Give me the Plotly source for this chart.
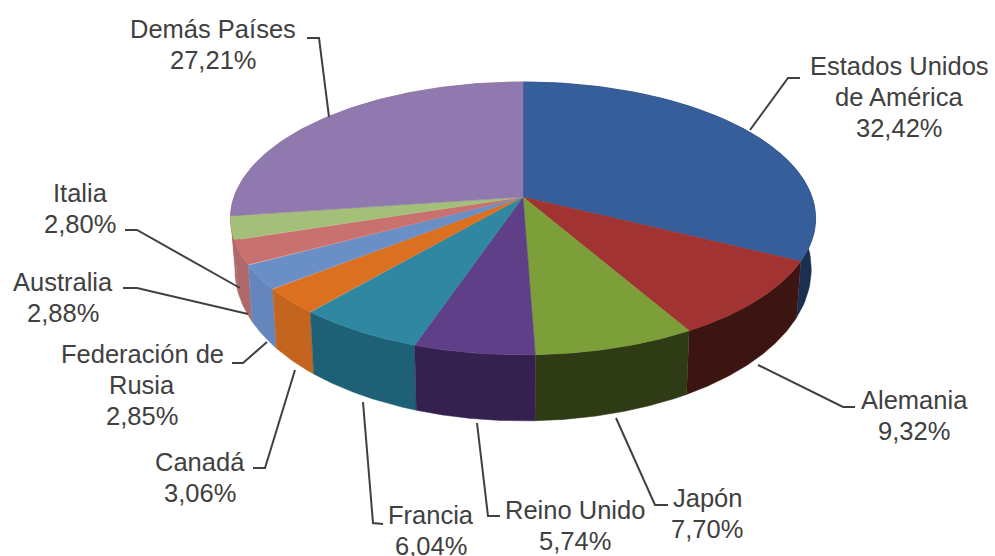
import numpy as np
import plotly.graph_objects as go

countries = ["Estados Unidos<br>de América", "Alemania", "Japón", "Reino Unido", "Francia",
             "Canadá", "Federación de<br>Rusia", "Australia", "Italia", "Demás Países"]
shares = [32.42, 9.32, 7.70, 5.74, 6.04, 3.06, 2.85, 2.88, 2.80, 27.21]
top_colors = ["#355E9A", "#A13432", "#7C9F3A", "#5F3F87", "#2F87A2", "#DB7021",
              "#6A8EC6", "#C9716F", "#A3BF79", "#9079AE"]
side_colors = ["#1B2F50", "#3C1513", "#2F3B15", "#35214F", "#1E6075", "#C4651F",
               "#6585BD", "#B0696A", "#B0696A", "#B0696A"]
label_x = [899, 914, 707, 575, 431, 200, 142, 63, 80, 213]
label_y = [97, 415, 513, 525, 530, 477, 385, 297, 208, 44]
leaders = [
    [(800, 78), (788, 78), (750, 130)],
    [(855, 407), (843, 407), (758, 365)],
    [(668, 505), (655, 505), (616, 418)],
    [(500, 516), (488, 516), (477, 423)],
    [(383, 524), (373, 523), (363, 402)],
    [(253, 468), (265, 468), (295, 370)],
    [(232, 363), (243, 363), (267, 342)],
    [(123, 288), (137, 288), (248, 314)],
    [(125, 230), (137, 230), (240, 288)],
    [(307, 38), (319, 38), (329, 117)],
]

# perspective projection of the pie disc onto the page
CX, CY, R, S, K = 523.0, 197.0, 289.0, 133.1, 0.157
LINE_GAP = 31


def project(theta, bottom=False):
    u = np.sin(theta)
    v = -np.cos(theta)
    w = 1 - K * v
    if bottom:
        return CX + 0.985 * R * u / w, CY + 48 + 18 * v + S * v / w
    return CX + R * u / w, CY + S * v / w


fractions = np.array(shares) / sum(shares)
edges = np.concatenate([[0], np.cumsum(fractions)]) * 2 * np.pi
mid_depth = -np.cos((edges[:-1] + edges[1:]) / 2)

fig = go.Figure()
for i in np.argsort(mid_depth):
    a = np.linspace(edges[i], edges[i + 1], 80)
    xt, yt = project(a)
    xb, yb = project(a, bottom=True)
    fig.add_trace(go.Scatter(
        x=np.concatenate([xt, xb[::-1]]), y=np.concatenate([yt, yb[::-1]]),
        mode="lines", fill="toself", fillcolor=side_colors[i],
        line=dict(color=side_colors[i], width=0.5), hoverinfo="skip", showlegend=False))
for i in range(len(shares)):
    a = np.linspace(edges[i], edges[i + 1], 80)
    xt, yt = project(a)
    fig.add_trace(go.Scatter(
        x=np.concatenate([[CX], xt, [CX]]), y=np.concatenate([[CY], yt, [CY]]),
        mode="lines", fill="toself", fillcolor=top_colors[i],
        line=dict(color=top_colors[i], width=0.5), hoverinfo="skip", showlegend=False))

shapes = []
for pts in leaders:
    path = "M " + " L ".join(f"{x},{y}" for x, y in pts)
    shapes.append(dict(type="path", path=path, xref="x", yref="y",
                       line=dict(color="#404040", width=2)))

annotations = []
for name, val, x, y in zip(countries, shares, label_x, label_y):
    lines = name.split("<br>") + [f"{val:.2f}%".replace(".", ",")]
    y0 = y - LINE_GAP * (len(lines) - 1) / 2
    for j, line in enumerate(lines):
        annotations.append(dict(x=x, y=y0 + j * LINE_GAP, xref="x", yref="y", text=line, showarrow=False,
                                xanchor="center", yanchor="middle", align="center",
                                font=dict(family="Liberation Sans, Arial, sans-serif", size=25.5, color="#404040")))

fig.update_layout(
    width=995, height=556, margin=dict(l=0, r=0, t=0, b=0),
    paper_bgcolor="white", plot_bgcolor="white", showlegend=False,
    xaxis=dict(range=[0, 995], visible=False, fixedrange=True),
    yaxis=dict(range=[556, 0], visible=False, fixedrange=True),
    shapes=shapes, annotations=annotations,
)
fig.write_html("out.html", config={"displayModeBar": False},
               post_script="document.body.style.margin='0';document.body.style.overflow='hidden';")
